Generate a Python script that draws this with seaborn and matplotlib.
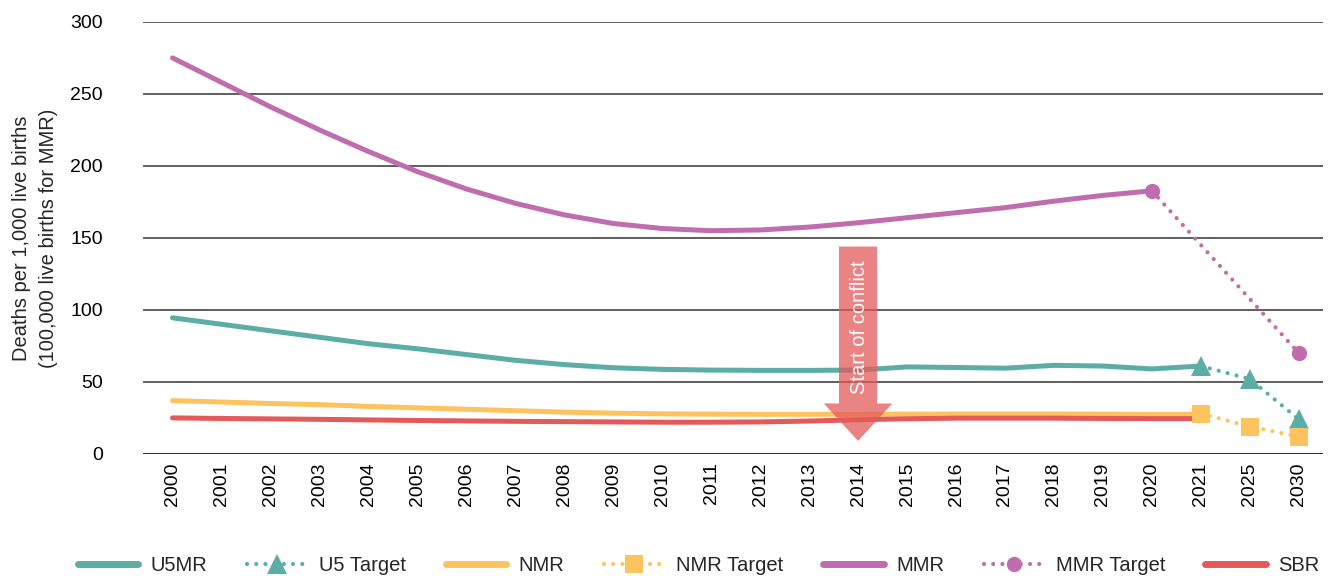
import matplotlib
matplotlib.use('Agg')  # Headless
import matplotlib.pyplot as plt
from matplotlib.lines import Line2D
from matplotlib.patches import FancyArrow
import seaborn as sns

sns.set_theme(style="white")
plt.rcParams['font.family'] = ['Liberation Sans', 'DejaVu Sans']

years = [str(y) for y in range(2000, 2022)] + ['2025', '2030']

# observed series (2000-2021, MMR to 2020)
u5mr = [94.5, 90, 85.5, 81, 76.5, 73, 69, 65, 62, 59.8, 58.7, 58.2, 58, 58,
        58.2, 60.4, 60, 59.5, 61.5, 61, 59, 61]
nmr = [37, 36, 35, 34.2, 33, 32, 31, 30, 29, 28.3, 27.8, 27.6, 27.5, 27.5,
       27.5, 27.6, 27.7, 27.7, 27.7, 27.6, 27.5, 27.5]
mmr = [275, 258, 241, 225, 210, 196, 184, 174, 166, 160, 156.5, 155, 155.5,
       157.5, 160.5, 164, 167.5, 171, 175.5, 179.5, 182.7]
sbr = [25, 24.6, 24.3, 24, 23.6, 23.2, 22.9, 22.6, 22.4, 22.2, 22, 22, 22.2,
       22.8, 23.7, 24.4, 24.8, 24.8, 24.8, 24.6, 24.5, 24.5]

# targets
u5_target_years = ['2021', '2025', '2030']
u5_target = [61, 52, 24]
nmr_target_years = ['2021', '2025', '2030']
nmr_target = [28, 19, 12]
mmr_target_years = ['2020', '2030']
mmr_target = [182.7, 70]

conflict_year = '2014'

C_U5 = '#5BADA6'
C_NMR = '#FDC35E'
C_MMR = '#BF6DAE'
C_SBR = '#E35A5A'


def pos(labels):
    return [years.index(y) for y in labels]


fig = plt.figure(figsize=(13.38, 5.76), dpi=100)
ax = fig.add_axes([0.107, 0.212, 0.882, 0.75])

LW = 3.6
DOTS = (0, (0.01, 2.2))

sns.lineplot(x=pos(years[:len(u5mr)]), y=u5mr, color=C_U5, lw=LW, ax=ax,
             solid_capstyle='round', zorder=3)
sns.lineplot(x=pos(years[:len(nmr)]), y=nmr, color=C_NMR, lw=LW, ax=ax,
             solid_capstyle='round', zorder=3)
sns.lineplot(x=pos(years[:len(mmr)]), y=mmr, color=C_MMR, lw=LW, ax=ax,
             solid_capstyle='round', zorder=3)
sns.lineplot(x=pos(years[:len(sbr)]), y=sbr, color=C_SBR, lw=LW, ax=ax,
             solid_capstyle='round', zorder=4)

sns.lineplot(x=pos(u5_target_years), y=u5_target, color=C_U5, lw=3,
             linestyle=DOTS, dash_capstyle='round', marker='^', markersize=14,
             markeredgewidth=0, ax=ax, zorder=5)
sns.lineplot(x=pos(nmr_target_years), y=nmr_target, color=C_NMR, lw=3,
             linestyle=DOTS, dash_capstyle='round', marker='s', markersize=13,
             markeredgewidth=0, ax=ax, zorder=5)
sns.lineplot(x=pos(mmr_target_years), y=mmr_target, color=C_MMR, lw=3,
             linestyle=DOTS, dash_capstyle='round', marker='o', markersize=11,
             markeredgewidth=0, ax=ax, zorder=5)

# start of conflict arrow
cx = years.index(conflict_year)
ax.add_patch(FancyArrow(cx, 144, 0, -135, width=0.78, head_width=1.4,
                        head_length=26, length_includes_head=True,
                        color=C_SBR, alpha=0.75, lw=0, zorder=6))
ax.text(cx + 0.02, 88, 'Start of conflict', rotation=90, color='white',
        ha='center', va='center', fontsize=14.5, zorder=7)

ax.set_ylim(0, 300)
ax.set_xlim(-0.6, len(years) - 0.5)
ax.set_yticks(range(0, 301, 50))
ax.set_xticks(range(len(years)))
ax.set_xticklabels(years, rotation=90)
ax.tick_params(axis='both', length=0, labelsize=14, colors='black')
ax.tick_params(axis='x', pad=6)
ax.tick_params(axis='y', pad=29)
ax.grid(axis='y', color='#333333', lw=1.1, zorder=0)
ax.axhline(0, color='#333333', lw=2.2, zorder=2)
for s in ax.spines.values():
    s.set_visible(False)

ax.set_ylabel('Deaths per 1,000 live births\n(100,000 live births for MMR)',
              fontsize=14.5, linespacing=1.5, labelpad=9)

handles = [
    Line2D([], [], color=C_U5, lw=5, solid_capstyle='round'),
    Line2D([], [], color=C_U5, lw=3, ls=DOTS, dash_capstyle='round',
           marker='^', markersize=14, markeredgewidth=0),
    Line2D([], [], color=C_NMR, lw=5, solid_capstyle='round'),
    Line2D([], [], color=C_NMR, lw=3, ls=DOTS, dash_capstyle='round',
           marker='s', markersize=13, markeredgewidth=0),
    Line2D([], [], color=C_MMR, lw=5, solid_capstyle='round'),
    Line2D([], [], color=C_MMR, lw=3, ls=DOTS, dash_capstyle='round',
           marker='o', markersize=11, markeredgewidth=0),
    Line2D([], [], color=C_SBR, lw=5, solid_capstyle='round'),
]
labels = ['U5MR', 'U5 Target', 'NMR', 'NMR Target', 'MMR', 'MMR Target', 'SBR']
fig.legend(handles, labels, loc='lower left', ncol=7, mode='expand',
           bbox_to_anchor=(0.052, -0.012, 0.94, 0.05), frameon=False,
           fontsize=14.5, handlelength=3.0, handletextpad=0.6, numpoints=1,
           borderaxespad=0)

fig.savefig('out.png', dpi=100)
plt.close(fig)
